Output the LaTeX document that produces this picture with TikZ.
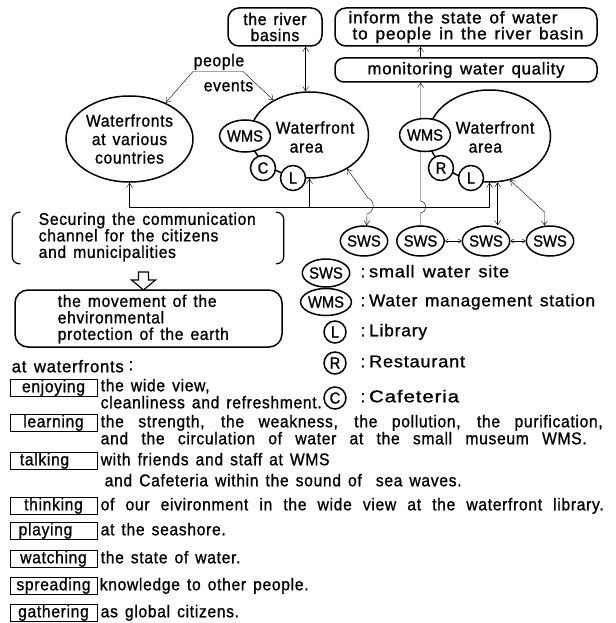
\documentclass[tikz,border=0pt]{standalone}
\usepackage{fontspec}
\usepackage{graphicx}
\setmainfont{Liberation Sans}[LetterSpace=4,WordSpace=1.4,FakeStretch=0.92,FakeBold=1]
\newfontfamily\tightf{Liberation Sans}[FakeStretch=0.92,FakeBold=1]
\usetikzlibrary{arrows.meta,calc,shapes.geometric}
\pgfdeclarelayer{bg}
\pgfsetlayers{bg,main}
\newcommand\fs{\fontsize{17}{16}\selectfont}
\newcommand\fsm{\tightf\fontsize{16}{16}\selectfont}
\newcommand\fitw[2]{\resizebox{#1}{\height}{#2}}
\newcommand\spread[2]{\makebox[#1][s]{#2}}
\begin{document}
\begin{tikzpicture}[x=1pt,y=-1pt,line width=1.5pt,
  >={Straight Barb[length=4.5pt,width=6pt]},
  box/.style={draw,rounded corners=11pt,inner sep=0pt,font=\fs,align=center},
  ell/.style={draw,ellipse,inner sep=0pt},
  sm/.style={draw,ellipse,fill=white,inner sep=0pt,font=\fsm},
  circ/.style={draw,circle,fill=white,inner sep=0pt,minimum size=25pt,font=\fsm},
  lbox/.style={draw,line width=1pt,minimum width=87pt,minimum height=17pt,inner sep=0pt,font=\fs,text height=12pt,text depth=3.5pt},
  lab/.style={font=\fs,inner sep=0pt,anchor=west,text height=11.5pt,text depth=3pt},
  ml/.style={font={\fontsize{17}{16.5}\selectfont},inner sep=0pt,anchor=west,align=left},
  sa/.style={arrows={Straight Barb[length=3pt,width=4pt]-Straight Barb[length=3pt,width=4pt]}}
]
\useasboundingbox (0,0) rectangle (615,623);

% top boxes
\node[box,minimum width=94pt,minimum height=38pt] (rb) at (275,27) {the river\\basins};
\node[box,minimum width=262pt,minimum height=38pt,align=left] (inf) at (466,27) {\fitw{209pt}{inform the state of water}\\\hspace*{4pt}\fitw{231pt}{to people in the river basin}};
\node[box,rounded corners=9pt,minimum width=262pt,minimum height=24pt] (mon) at (466,70) {\fitw{197pt}{monitoring water quality}};

% waterfronts
\node[ell,minimum width=127pt,minimum height=86pt,font={\fontsize{17}{18.5}\selectfont},align=center] (wfv) at (129.5,139) {Waterfronts\\at various\\countries};
\node[ell,minimum width=118pt,minimum height=86pt] (wfa1) at (309.5,135) {};
\node[ml,font={\fontsize{17}{19}\selectfont}] (wfa1t) at (275,137) {Waterfront\\\hspace*{14pt}area};
\node[sm,minimum width=44pt,minimum height=32pt] (wms1) at (245,136) {WMS};
\node[circ] (c1) at (263,168) {C};
\node[circ] (l1) at (293,178) {L};

\node[ell,minimum width=122pt,minimum height=92pt] (wfa2) at (489.5,136) {};
\node[ml,font={\fontsize{17}{19}\selectfont}] (wfa2t) at (455,137) {Waterfront\\\hspace*{13pt}area};
\node[sm,minimum width=44pt,minimum height=33pt] (wms2) at (425,135) {WMS};
\node[circ] (r2) at (441,168) {R};
\node[circ] (l2) at (471,178) {L};

\node[lab] (ppl) at (193,62) {people};
\node[lab] (evt) at (203,87) {events};

% SWS row
\foreach \n/\x in {1/364,2/420.5,3/486,4/550}
  \node[sm,minimum width=46pt,minimum height=30pt] (sws\n) at (\x,241) {SWS};

% legend
\node[sm,minimum width=45pt,minimum height=28pt] (lsws) at (326,273) {SWS};
\node[sm,minimum width=45pt,minimum height=27pt] (lwms) at (326,302) {WMS};
\node[circ,minimum size=22pt] (ll) at (335,332) {L};
\node[circ,minimum size=22pt] (lr) at (335,363) {R};
\node[circ,minimum size=22pt] (lc) at (335,398) {C};
\node[lab] (tsws) at (360,273) {:\hspace{4pt}\fitw{140pt}{small water site}};
\node[lab] (twms) at (360,302) {:\hspace{4pt}\fitw{226pt}{Water management station}};
\node[lab] (tl) at (360,332) {:\hspace{4pt}\fitw{58pt}{Library}};
\node[lab] (tr) at (360,363) {:\hspace{4pt}\fitw{96pt}{Restaurant}};
\node[lab] (tc) at (360,398) {:\hspace{4pt}\fitw{90pt}{Cafeteria}};

% left boxes
\node[minimum width=270pt,minimum height=50pt,inner sep=0pt] (sec) at (148,238) {};
\draw[line width=1.2pt,rounded corners=7pt] ($(sec.north west)+(8,0)$) -- (sec.north west) -- (sec.south west) -- ($(sec.south west)+(8,0)$);
\draw[line width=1.2pt,rounded corners=7pt] ($(sec.north east)+(-8,0)$) -- (sec.north east) -- (sec.south east) -- ($(sec.south east)+(-8,0)$);
\node[ml] (sect) at (38,237) {Securing the communication\\channel for the citizens\\and municipalities};

\node[box,rounded corners=13pt,minimum width=267pt,minimum height=57pt] (mov) at (148.5,318.5) {};
\node[ml] (movt) at (57,319) {the movement of the\\ehvironmental\\protection of the earth};

\coordinate (ha) at (143.5,272);
\draw[line width=1.2pt,line join=miter] ($(ha)+(-5,0)$) -- ++(10,0) -- ++(0,8) -- ++(7,0) -- ++(-12,10) -- ++(-12,-10) -- ++(7,0) -- cycle;

% activities
\node[lab] (atw) at (11,368) {\fitw{112pt}{at waterfronts}\hspace{5pt}\raisebox{2pt}{:}};
\node[lbox] (bEn) at (53.5,388) {enjoying};
\node[lbox] (bLe) at (53.5,423) {learning};
\node[lbox] (bTa) at (53.5,461) {talking\hspace*{18pt}};
\node[lbox] (bTh) at (53.5,506) {thinking};
\node[lbox] (bPl) at (53.5,531) {playing\hspace*{16pt}};
\node[lbox] (bWa) at (53.5,559) {watching};
\node[lbox] (bSp) at (53.5,586) {spreading};
\node[lbox] (bGa) at (53.5,613) {gathering};

\node[lab] (dEn1) at (100,387) {the wide view,};
\node[lab] (dEn2) at (100,404) {cleanliness and refreshment.};
\node[lab] (dLe1) at (100,423) {\spread{502pt}{the strength, the weakness, the pollution, the purification,}};
\node[lab] (dLe2) at (100,440) {\spread{486pt}{and the circulation of water at the small museum WMS.}};
\node[lab] (dTa1) at (100,461) {with friends and staff at WMS};
\node[lab] (dTa2) at (104,482) {and Cafeteria within the sound of\ \ sea waves.};
\node[lab] (dTh) at (100,506) {\spread{503pt}{of our eivironment in the wide view at the waterfront library.}};
\node[lab] (dPl) at (100,531) {at the seashore.};
\node[lab] (dWa) at (100,559) {the state of water.};
\node[lab] (dSp) at (99,586) {knowledge to other people.};
\node[lab] (dGa) at (100,613) {as global citizens.};

% connectors
\begin{pgfonlayer}{bg}
\coordinate (pl) at (193,71.5);
\coordinate (pr) at (243,71.5);
\draw[<->] (wfv.45) -- (pl) -- (pr) -- (wfa1.136);
\draw[<->] (rb.south -| wfa1.95) -- (wfa1.95);
\draw[->] (mon.north -| sws2.north) -- (inf.south -| sws2.north);
\draw[->] (sws2.north) -- (420.5,213) .. controls (427.5,212) and (427.5,202) .. (420.5,201) -- (mon.south -| sws2.north);
\coordinate (hL) at (129.5,207.5);
\coordinate (hR) at (489.5,207.5);
\draw (hL) -- (hR);
\draw[->] (hL) -- (wfv.south);
\draw[->] (hL -| wfa1.south) -- (wfa1.south);
\draw[->] (hR) -- (wfa2.south);
\draw[<->] (wfa1.-42) -- (368,198) .. controls (375,200) and (375,212) .. (367,214) -- (sws1.80);
\draw[<->] (wfa2.-80) -- (wfa2.-80 |- sws3.north);
\draw[<->] (wfa2.-65) -- (544.5,212) -- (sws4.110);
\draw[sa] (sws2) -- (sws3);
\draw[sa] (sws3) -- (sws4);
\end{pgfonlayer}
\end{tikzpicture}
\end{document}
